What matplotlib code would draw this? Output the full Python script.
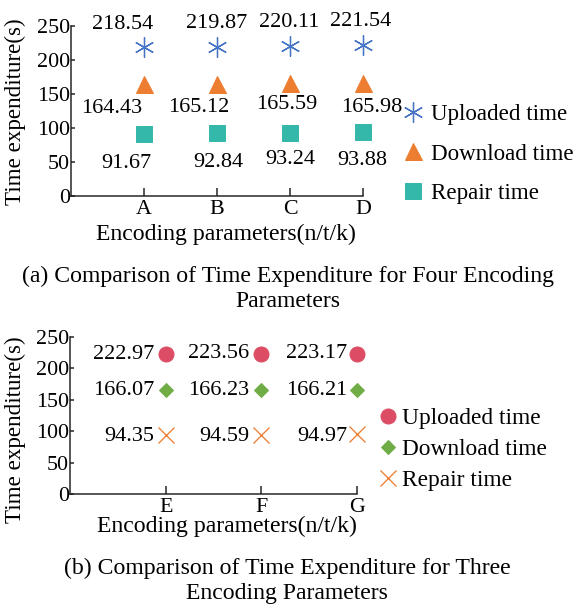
import matplotlib
matplotlib.use("Agg")
import matplotlib.pyplot as plt

plt.rcParams['font.family'] = ['Liberation Serif', 'DejaVu Serif']

# ---- data ----
cats_a = ['A', 'B', 'C', 'D']
upload_a = [218.54, 219.87, 220.11, 221.54]
download_a = [164.43, 165.12, 165.59, 165.98]
repair_a = [91.67, 92.84, 93.24, 93.88]

cats_b = ['E', 'F', 'G']
upload_b = [222.97, 223.56, 223.17]
download_b = [166.07, 166.23, 166.21]
repair_b = [94.35, 94.59, 94.97]

yticks = [0, 50, 100, 150, 200, 250]
series_names = ['Uploaded time', 'Download time', 'Repair time']
caption_a = "(a) Comparison of Time Expenditure for Four Encoding\nParameters"
caption_b = "(b) Comparison of Time Expenditure for Three\nEncoding Parameters"
ylab = "Time expenditure(s)"
xlab = "Encoding parameters(n/t/k)"

FS = 22
FS_LAB = 22.3
FS_BIG = 23.7
fig = plt.figure(figsize=(8, 8.5), dpi=72)

def style_axes(ax, n, cats):
    ax.set_xlim(0, n)
    ax.set_ylim(0, 250)
    ax.set_xticks(range(1, n + 1))
    ax.set_xticklabels(cats)
    ax.set_yticks(yticks)
    for s in ['top', 'right']:
        ax.spines[s].set_visible(False)
    for s in ['left', 'bottom']:
        ax.spines[s].set_linewidth(1.5)
        ax.spines[s].set_color('#222222')
    ax.tick_params(axis='both', direction='in', labelsize=FS, width=1.5, color='#222222')
    ax.tick_params(axis='x', length=8, pad=4)
    ax.tick_params(axis='y', length=4, pad=1)
    ax.patch.set_alpha(0)

# ---- panel (a) ----
ax1 = fig.add_axes([0.1233, 0.6797, 0.5069, 0.2778])
style_axes(ax1, 4, cats_a)
xa = list(range(1, 5))
ax1.plot(xa, upload_a, ls='none', marker=(6, 2, 0), ms=20, mew=1.3, color='#4472C4', label=series_names[0], clip_on=False)
ax1.plot(xa, download_a, ls='none', marker='^', ms=17, color='#ED7D31', label=series_names[1], clip_on=False)
ax1.plot(xa, repair_a, ls='none', marker='s', ms=16, color='#33B8AA', label=series_names[2], clip_on=False)

up_off = [(-21, 23), (0, 23), (-1, 24), (-2, 24)]
dn_off = [(-32, -24), (-18, -24), (-3, -21), (9, -24)]
rp_off = [(-18, -30), (1, -30), (0, -27), (-1, -28)]
for i in range(4):
    ax1.annotate(f"{upload_a[i]:.2f}", (xa[i], upload_a[i]), xytext=up_off[i], textcoords='offset points',
                 ha='center', va='center', fontsize=FS_LAB)
    ax1.annotate(f"{download_a[i]:.2f}", (xa[i], download_a[i]), xytext=dn_off[i], textcoords='offset points',
                 ha='center', va='center', fontsize=FS_LAB)
    ax1.annotate(f"{repair_a[i]:.2f}", (xa[i], repair_a[i]), xytext=rp_off[i], textcoords='offset points',
                 ha='center', va='center', fontsize=FS_LAB)

ax1.legend(loc='center left', bbox_to_anchor=(0.698, 0.7484), bbox_transform=fig.transFigure,
           frameon=False, fontsize=23, handlelength=0.96, handletextpad=0.28, labelspacing=0.8,
           borderpad=0, borderaxespad=0)

fig.text(15 / 576, 1 - 112 / 612, ylab, rotation=90, ha='center', va='center', fontsize=23)
fig.text(226 / 576, 1 - 234 / 612, xlab, ha='center', va='center', fontsize=FS_BIG)
fig.text(288 / 576, 1 - 289 / 612, caption_a, ha='center', va='center', fontsize=FS_BIG, linespacing=1.3)

# ---- panel (b) ----
ax2 = fig.add_axes([0.1215, 0.1928, 0.4983, 0.2565])
style_axes(ax2, 3, cats_b)
xb = list(range(1, 4))
ax2.plot(xb, upload_b, ls='none', marker='o', ms=15, color='#DC4C64', label=series_names[0], clip_on=False)
ax2.plot(xb, download_b, ls='none', marker='D', ms=10, color='#70AD47', label=series_names[1], clip_on=False)
ax2.plot(xb, repair_b, ls='none', marker='x', ms=16, mew=1.3, color='#ED7D31', label=series_names[2], clip_on=False)

lab_dx = [-11, -12, -10]
for i in range(3):
    ax2.annotate(f"{upload_b[i]:.2f}", (xb[i], upload_b[i]), xytext=(lab_dx[i], 0), textcoords='offset points',
                 ha='right', va='center', fontsize=FS_LAB)
    ax2.annotate(f"{download_b[i]:.2f}", (xb[i], download_b[i]), xytext=(lab_dx[i], -1), textcoords='offset points',
                 ha='right', va='center', fontsize=FS_LAB)
    ax2.annotate(f"{repair_b[i]:.2f}", (xb[i], repair_b[i]), xytext=(lab_dx[i], -2), textcoords='offset points',
                 ha='right', va='center', fontsize=FS_LAB)

ax2.legend(loc='center left', bbox_to_anchor=(0.6545, 0.2655), bbox_transform=fig.transFigure,
           frameon=False, fontsize=23.4, handlelength=0.95, handletextpad=0.1, labelspacing=0.42,
           borderpad=0, borderaxespad=0)

fig.text(15 / 576, 1 - 430 / 612, ylab, rotation=90, ha='center', va='center', fontsize=23)
fig.text(227 / 576, 1 - 526 / 612, xlab, ha='center', va='center', fontsize=FS_BIG)
fig.text(287 / 576, 1 - 581 / 612, caption_b, ha='center', va='center', fontsize=FS_BIG, linespacing=1.3)

fig.savefig("out.png", dpi=72)
